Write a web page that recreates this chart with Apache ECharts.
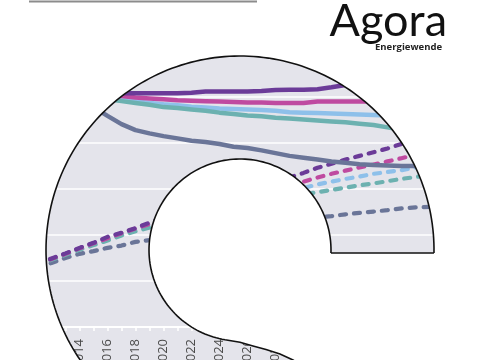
<!DOCTYPE html>
<html><head><meta charset="utf-8">
<script src="https://cdn.jsdelivr.net/npm/echarts@6/dist/echarts.min.js"></script>
<style>html,body{margin:0;padding:0;background:#fff}#c{width:480px;height:360px}</style>
</head><body><div id="c"></div>
<script>
// Years (category axis), ticks every year, labels every second year
const years = ['2010','2011','2012','2013','2014','2015','2016','2017','2018','2019','2020',
  '2021','2022','2023','2024','2025','2026','2027','2028','2029','2030',
  '2031','2032','2033','2034','2035','2036','2037','2038','2039','2040'];

// Solid lines
const purpleSolid = [null,null,null,null,50.4,50.7,50.8,50.8,50.8,50.8,50.8,50.8,50.9,51.2,51.2,51.2,51.2,51.3,51.5,51.6,51.6,51.7,52.1,52.6,53.0,53.5,53.9,54.3,54.6,55.0,55.3];
const magentaSolid = [null,null,null,null,50.3,50.3,50.3,50.2,49.9,49.7,49.5,49.3,49.2,49.1,49.0,48.9,48.8,48.8,48.7,48.7,48.7,49.0,49.0,49.0,49.0,49.0,49.1,49.1,49.2,49.2,49.3];
const blueSolid = [null,null,null,null,50.2,50.1,49.9,49.6,49.1,48.7,48.4,48.2,47.9,47.7,47.5,47.4,47.3,47.2,47.0,46.7,46.6,46.5,46.4,46.3,46.2,46.1,46.0,45.9,45.8,45.7,45.6];
const tealSolid = [null,null,null,null,50.0,49.8,49.5,49.1,48.7,48.3,47.8,47.6,47.3,47.0,46.6,46.3,46.0,45.8,45.5,45.3,45.1,44.9,44.7,44.5,44.2,43.9,43.4,42.9,42.6,42.3,42.0];
const slateSolid = [null,null,50.6,50.0,49.1,47.8,45.9,44.1,42.8,42.1,41.5,41.0,40.5,40.2,39.8,39.2,38.9,38.4,37.8,37.2,36.8,36.4,36.0,35.7,35.4,35.2,35.1,35.0,35.0,34.9,34.9];

// Dashed lines
const slateDash = [12.4,13.2,13.9,15.0,15.9,16.5,17.2,17.7,18.5,18.9,19.3,19.8,20.2,20.7,21.1,21.5,22.0,22.4,22.7,23.0,23.4,23.8,24.1,24.5,24.8,25.1,25.4,25.8,26.0,26.1,26.2];
const blueDash = [12.8,13.6,14.7,15.9,17.1,18.2,19.1,20.2,21.2,22.2,23.0,23.9,24.8,25.7,26.4,27.2,27.9,28.7,29.5,29.9,30.2,31.0,31.6,32.2,32.7,33.3,33.7,34.1,34.7,35.1,35.7];
const tealDash = [12.8,13.5,14.6,15.7,16.8,17.8,18.8,19.9,20.8,21.6,22.4,23.0,23.7,24.3,25.0,25.7,26.3,27.0,27.6,28.3,28.8,29.3,29.8,30.3,30.8,31.2,31.7,32.2,32.6,33.0,33.5];
const magentaDash = [12.8,13.7,14.8,15.9,17.1,18.2,19.3,20.4,21.4,22.4,23.4,24.3,25.3,26.2,27.1,27.8,28.6,29.3,30.1,30.9,31.6,32.5,33.3,34.0,34.7,35.3,36.0,36.7,37.4,38.0,38.7];
const purpleDash = [12.8,13.7,14.9,16.0,17.2,18.3,19.6,20.5,21.5,22.7,23.7,24.7,25.7,26.6,27.6,28.6,29.6,30.5,31.5,32.5,33.5,34.6,35.5,36.4,37.2,38.0,38.8,39.8,40.7,41.5,42.4];

const C = { purple:'#6b3b98', magenta:'#bf4aa0', blue:'#8ec0ea', teal:'#6cb1b0', slate:'#6a7598' };

// ---- C-shaped frame geometry (decorative) ----
const CX = 240, CY = 250, RO = 194, RI = 91;
function arc(r, a0, a1, n) {
  const p = [];
  for (let i = 0; i <= n; i++) {
    const a = a0 + (a1 - a0) * i / n;
    p.push([CX + r * Math.cos(a), CY + r * Math.sin(a)]);
  }
  return p;
}
const outerEnd = -Math.PI - Math.asin(150 / RO);
const outerMask = arc(RO, Math.asin(10 / RO), outerEnd, 160);
const outerLine = arc(RO, Math.asin(3 / RO), outerEnd, 160);
const innerArc = arc(RI, Math.asin(3 / RI), -Math.PI - Math.acos(12 / RI), 140);
const sCurve = [[240,342.3],[253,346],[266,349.5],[280,354],[293,360],[308,369],[325,382],[345,400],[360,415]];
const maskTop = [[-10,-10],[490,-10],[490,260]].concat(outerMask, [[-10,400]]);
const maskHole = innerArc.concat(sCurve, [[490,415],[490,253]]);
const innerLine = innerArc.concat(sCurve);
const capLine = { x1: CX + Math.sqrt(RI*RI - 9), y1: 253, x2: CX + Math.sqrt(RO*RO - 9), y2: 253 };

function solid(name, data, color) {
  return { name, type:'line', data, symbol:'none', silent:true, z:3,
    lineStyle:{ color, width:4.5, cap:'round', join:'round' } };
}
function dashed(name, data, color) {
  return { name, type:'line', data, symbol:'none', silent:true, z:2,
    lineStyle:{ color, width:4.2, type:[6,8], cap:'round', join:'round' } };
}

const chart = echarts.init(document.getElementById('c'), null, { renderer:'canvas' });
chart.setOption({
  animation:false,
  backgroundColor:'#e4e4eb',
  grid:{ left:23.5, right:36.5, top:51, bottom:33, containLabel:false, outerBoundsMode:'none' },
  xAxis:{
    type:'category', data:years, boundaryGap:false,
    axisLine:{ show:true, lineStyle:{ color:'#ffffff', width:2 } },
    axisTick:{ show:true, interval:0, length:4, lineStyle:{ color:'#ffffff', width:1.5 } },
    axisLabel:{ interval:1, rotate:90, margin:12, color:'#4a4a4a', fontSize:13, fontFamily:'Open Sans' },
    splitLine:{ show:false }
  },
  yAxis:{
    type:'value', min:0, max:60, interval:10,
    axisLine:{ show:false }, axisTick:{ show:false }, axisLabel:{ show:false },
    splitLine:{ show:true, lineStyle:{ color:'#ffffff', width:1.5 } }
  },
  series:[
    dashed('slate-d', slateDash, C.slate),
    dashed('blue-d', blueDash, C.blue),
    dashed('teal-d', tealDash, C.teal),
    dashed('magenta-d', magentaDash, C.magenta),
    dashed('purple-d', purpleDash, C.purple),
    solid('slate', slateSolid, C.slate),
    solid('blue', blueSolid, C.blue),
    solid('teal', tealSolid, C.teal),
    solid('magenta', magentaSolid, C.magenta),
    solid('purple', purpleSolid, C.purple)
  ],
  graphic:[
    { type:'polygon', z:100, silent:true, shape:{ points:maskTop }, style:{ fill:'#ffffff', stroke:'#ffffff', lineWidth:0.5 } },
    { type:'polygon', z:100, silent:true, shape:{ points:maskHole }, style:{ fill:'#ffffff', stroke:'#ffffff', lineWidth:0.5 } },
    { type:'polyline', z:101, silent:true, shape:{ points:outerLine }, style:{ fill:null, stroke:'#111111', lineWidth:1.6 } },
    { type:'polyline', z:101, silent:true, shape:{ points:innerLine }, style:{ fill:null, stroke:'#111111', lineWidth:1.6 } },
    { type:'line', z:101, silent:true, shape:capLine, style:{ stroke:'#111111', lineWidth:1.6 } },
    { type:'line', z:102, silent:true, shape:{ x1:29, y1:1.5, x2:257, y2:1.5 }, style:{ stroke:'#8c8c8c', lineWidth:2 } },
    { type:'text', z:102, silent:true, style:{ text:'Agora', x:447, y:21, align:'right', verticalAlign:'middle',
        font:'normal 45px Lato, "Open Sans", sans-serif', fill:'#111111' } },
    { type:'text', z:102, silent:true, style:{ text:'Energiewende', x:442, y:47, align:'right', verticalAlign:'middle',
        font:'bold 9.5px "Open Sans", sans-serif', fill:'#222222' } }
  ]
});
</script>
</body></html>
